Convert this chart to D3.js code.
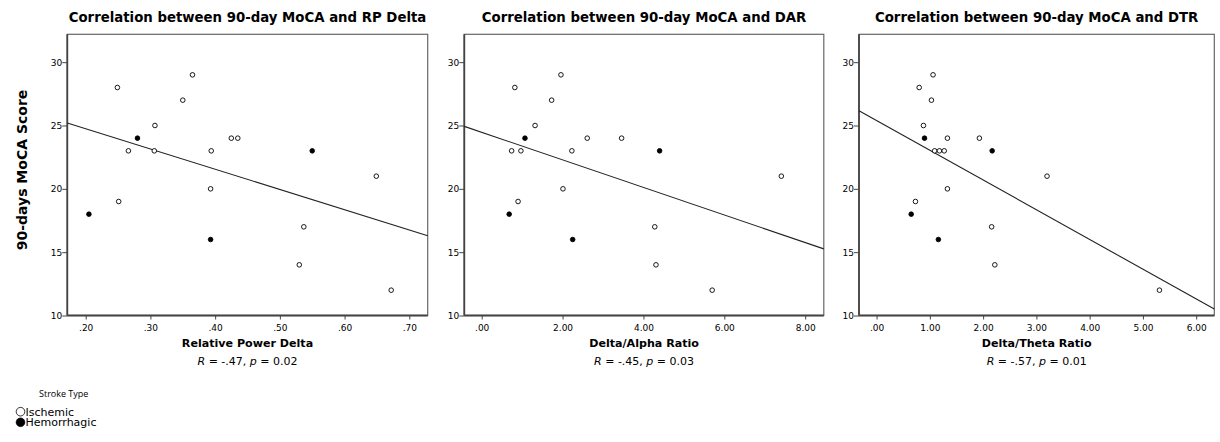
<!DOCTYPE html>
<html>
<head>
<meta charset="utf-8">
<script src="https://cdn.jsdelivr.net/npm/d3@7"></script>
<style>
  body { margin: 0; background: #fff; }
  svg text { fill: #000; }
</style>
</head>
<body>
<svg id="chart" width="1220" height="442"></svg>
<script>
// 90-day MoCA score and stroke type, one entry per patient (same order in every panel)
const mocaScores = [28, 29, 27, 25, 24, 24, 24, 23, 23, 23, 23, 21, 20, 19, 18, 16, 17, 14, 12];
const strokeTypes = ['I', 'I', 'I', 'I', 'H', 'I', 'I', 'I', 'I', 'I', 'H', 'I', 'I', 'I', 'H', 'H', 'I', 'I', 'I'];

// EEG measures
const rpDelta = [0.249, 0.365, 0.350, 0.307, 0.280, 0.425, 0.435, 0.266, 0.306, 0.394, 0.550, 0.649, 0.393, 0.251, 0.205, 0.393, 0.537, 0.530, 0.672];
const darValues = [0.82, 1.96, 1.73, 1.32, 1.07, 2.61, 3.46, 0.74, 0.97, 2.23, 4.40, 7.41, 2.01, 0.90, 0.68, 2.25, 4.28, 4.31, 5.70];
const dtrValues = [0.80, 1.06, 1.03, 0.88, 0.90, 1.33, 1.93, 1.09, 1.18, 1.27, 2.17, 3.20, 1.33, 0.73, 0.65, 1.16, 2.16, 2.22, 5.31];

// fit lines: [x0, y0, x1, y1]
const rpFit = [0.1716, 25.2, 0.7284, 16.3];
const darFit = [-0.43, 24.93, 8.46, 15.26];
const dtrFit = [-0.33, 26.17, 6.34, 10.51];

// axes
const yTicks = [10, 15, 20, 25, 30];
const yDomain = [10, 32.2];
const rpTicks = [0.2, 0.3, 0.4, 0.5, 0.6, 0.7];
const darTicks = [0, 2, 4, 6, 8];
const dtrTicks = [0, 1, 2, 3, 4, 5, 6];

const titles = ['Correlation between 90-day MoCA and RP Delta', 'Correlation between 90-day MoCA and DAR', 'Correlation between 90-day MoCA and DTR'];
const xLabels = ['Relative Power Delta', 'Delta/Alpha Ratio', 'Delta/Theta Ratio'];
const stats = [['-.47', '0.02'], ['-.45', '0.03'], ['-.57', '0.01']];
const legendTitle = 'Stroke Type';
const legendItems = [['I', 'Ischemic'], ['H', 'Hemorrhagic']];

const panels = [
    { x: rpDelta, fit: rpFit, ticks: rpTicks, domain: [0.1716, 0.7284], left: 67.3, right: 427.7 },
    { x: darValues, fit: darFit, ticks: darTicks, domain: [-0.43, 8.46], left: 464.3, right: 823.8 },
    { x: dtrValues, fit: dtrFit, ticks: dtrTicks, domain: [-0.33, 6.34], left: 859, right: 1214.3 }
];
const tickFmt = d => d3.format('.2f')(d).replace(/^0/, '');

const plotTop = 34.3, plotBottom = 315.5;
const svg = d3.select('#chart');
const titleFont = 'DejaVu Sans, Verdana, sans-serif';
const labelFont = 'DejaVu Sans, sans-serif';
const legendFont = 'Open Sans, sans-serif';

const y = d3.scaleLinear().domain(yDomain).range([plotBottom, plotTop]);

panels.forEach((p, i) => {
    const x = d3.scaleLinear().domain(p.domain).range([p.left, p.right]);
    const g = svg.append('g');

    // frame
    g.append('rect')
        .attr('x', p.left).attr('y', plotTop)
        .attr('width', p.right - p.left).attr('height', plotBottom - plotTop)
        .attr('fill', '#fff').attr('stroke', '#666').attr('stroke-width', 1.2);

    // axes
    const xAxis = d3.axisBottom(x).tickValues(p.ticks).tickFormat(tickFmt).tickSize(4).tickSizeOuter(0);
    const yAxis = d3.axisLeft(y).tickValues(yTicks).tickSize(5).tickSizeOuter(0);

    const gx = g.append('g').attr('transform', `translate(0,${plotBottom})`).call(xAxis);
    const gy = g.append('g').attr('transform', `translate(${p.left},0)`).call(yAxis);
    [gx, gy].forEach(a => {
        a.select('.domain').attr('stroke', '#444').attr('stroke-width', 1.8);
        a.selectAll('.tick line').attr('stroke', '#444');
        a.selectAll('.tick text').attr('font-family', labelFont).attr('font-size', 9).attr('fill', '#111');
    });
    gx.select('.domain').attr('d', `M${p.left},0H${p.right}`);
    gy.select('.domain').attr('d', `M0,${plotBottom}V${plotTop}`);
    gx.selectAll('.tick text').attr('dy', '0.9em');
    gy.selectAll('.tick text').attr('x', -5);

    // fit line
    g.append('line')
        .attr('x1', x(p.fit[0])).attr('y1', y(p.fit[1]))
        .attr('x2', x(p.fit[2])).attr('y2', y(p.fit[3]))
        .attr('stroke', '#222').attr('stroke-width', 1.1);

    // points
    g.selectAll('circle.pt')
        .data(p.x.map((v, j) => ({ v, s: mocaScores[j], t: strokeTypes[j] })))
        .join('circle')
        .attr('class', 'pt')
        .attr('cx', d => x(d.v)).attr('cy', d => y(d.s))
        .attr('r', 2.3)
        .attr('fill', d => d.t === 'H' ? '#000' : '#fff')
        .attr('stroke', '#000').attr('stroke-width', 0.9);

    const cx = (p.left + p.right) / 2;
    g.append('text')
        .attr('x', cx).attr('y', 21.5)
        .attr('text-anchor', 'middle')
        .attr('font-family', titleFont).attr('font-weight', 'bold').attr('font-size', 13.3)
        .text(titles[i]);

    g.append('text')
        .attr('x', cx).attr('y', 347)
        .attr('text-anchor', 'middle')
        .attr('font-family', labelFont).attr('font-weight', 'bold').attr('font-size', 11.1)
        .text(xLabels[i]);

    const st = g.append('text')
        .attr('x', cx).attr('y', 364.5)
        .attr('text-anchor', 'middle')
        .attr('font-family', labelFont).attr('font-size', 11);
    st.append('tspan').attr('font-style', 'italic').text('R');
    st.append('tspan').text(` = ${stats[i][0]}, `);
    st.append('tspan').attr('font-style', 'italic').text('p');
    st.append('tspan').text(` = ${stats[i][1]}`);
});

// y axis title
svg.append('text')
    .attr('transform', 'translate(27,170) rotate(-90)')
    .attr('text-anchor', 'middle')
    .attr('font-family', labelFont).attr('font-weight', 'bold').attr('font-size', 14)
    .text('90-days MoCA Score');

// legend
svg.append('text')
    .attr('x', 39).attr('y', 397)
    .attr('font-family', legendFont).attr('font-size', 9)
    .text(legendTitle);

legendItems.forEach(([t, label], i) => {
    const ly = 411.7 + i * 10.6;
    svg.append('circle')
        .attr('cx', 20.5).attr('cy', ly).attr('r', 4.3)
        .attr('fill', t === 'H' ? '#000' : '#fff')
        .attr('stroke', '#000').attr('stroke-width', 0.8);
    svg.append('text')
        .attr('x', 25.5).attr('y', ly + 4)
        .attr('font-family', labelFont).attr('font-size', 11)
        .text(label);
});
</script>
</body>
</html>
